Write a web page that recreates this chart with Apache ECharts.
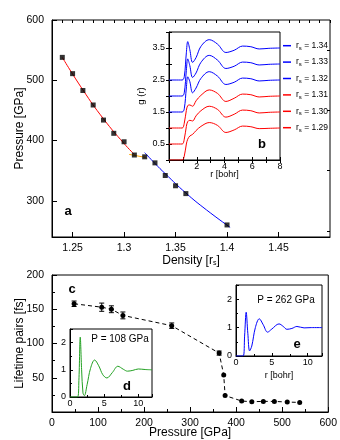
<!DOCTYPE html>
<html>
<head>
<meta charset="utf-8">
<script src="https://cdn.jsdelivr.net/npm/echarts@6/dist/echarts.min.js"></script>
<style>
html, body { margin: 0; padding: 0; background: #fff; }
#main { width: 340px; height: 440px; }
</style>
</head>
<body>
<div id="main"></div>
<script>
// panel a: pressure vs density
const rsA = [1.24, 1.25, 1.26, 1.27, 1.28, 1.29, 1.30, 1.31, 1.32, 1.33, 1.34, 1.35, 1.36, 1.40];
const pressA = [538, 511, 483, 459, 434, 412, 398, 376, 373, 363, 342, 325, 312, 260];
// fitted curves in panel a
const rsRed = [1.24, 1.26, 1.28, 1.30, 1.31];
const pressRed = [538, 484, 436, 395, 377];
const rsOrange = [1.305, 1.321];
const pressOrange = [377, 372];
const rsBlue = [1.32, 1.33, 1.34, 1.36, 1.38, 1.403];
const pressBlue = [380, 362, 345, 313, 285, 256];
const xTicksA = [1.25, 1.3, 1.35, 1.4, 1.45];
const yTicksA = [300, 400, 500, 600];
const yMinorA = [250, 350, 450, 550];

// panel b: g(r) for several rs, shifted by 0.5 each
const rsB = ['1.29', '1.30', '1.31', '1.32', '1.33', '1.34'];
const offsetB = [0, 0.5, 1.0, 1.5, 2.0, 2.5];
const rB   = [0, 0.95, 1.1, 1.25, 1.35, 1.5, 1.7, 1.95, 2.3, 2.9, 3.5, 4.1, 4.7, 5.3, 5.9, 6.5, 7.2, 8];
const g129 = [0, 0, 0.12, 0.5, 0.65, 0.75, 0.8, 0.92, 1.05, 1.17, 1.08, 0.86, 0.94, 1.06, 1.04, 0.98, 0.99, 1.0];
const g130 = [0, 0, 0.15, 0.55, 0.7, 0.74, 0.72, 0.88, 1.04, 1.18, 1.08, 0.84, 0.93, 1.06, 1.04, 0.97, 0.99, 1.0];
const g131 = [0, 0, 0.15, 0.55, 0.7, 0.72, 0.68, 0.85, 1.02, 1.19, 1.08, 0.83, 0.93, 1.06, 1.04, 0.97, 0.99, 1.0];
const g132 = [0, 0, 0.1, 0.75, 1.1, 0.95, 0.6, 0.75, 1.05, 1.26, 1.12, 0.86, 0.93, 1.06, 1.04, 0.97, 0.99, 1.0];
const g133 = [0, 0, 0.1, 0.8, 1.16, 0.95, 0.58, 0.72, 1.05, 1.27, 1.12, 0.86, 0.93, 1.06, 1.04, 0.97, 0.99, 1.0];
const g134 = [0, 0, 0.1, 0.85, 1.2, 0.95, 0.55, 0.7, 1.05, 1.26, 1.12, 0.86, 0.93, 1.06, 1.04, 0.97, 0.99, 1.0];
const gB = [g129, g130, g131, g132, g133, g134];
const colorB = ['#f00', '#f00', '#f00', '#00f', '#00f', '#00f'];

// panel c: lifetime of pairs vs pressure
const pressC = [48, 108, 129, 154, 260, 363, 373, 376, 412, 434, 459, 483, 511, 538];
const lifeC = [158, 153, 150, 141, 126, 86, 54, 24, 16, 15, 15.5, 15.5, 14.5, 14];
const errC = [4, 6, 5, 5, 4, 3, 0, 0, 0, 0, 0, 0, 0, 0];

// panel d: g(r) at 108 GPa
const rD = [0, 1.1, 1.3, 1.5, 1.7, 1.9, 2.1, 2.5, 3.0, 3.6, 4.2, 4.8, 5.4, 6.2, 7.0, 7.8, 8.4, 9.2, 10, 11, 12];
const gD = [0, 0, 0.6, 2.2, 1.0, 0.15, 0.05, 0.45, 1.05, 1.36, 1.15, 0.82, 0.7, 0.9, 1.13, 1.02, 0.95, 0.98, 1.03, 1.01, 1.0];

// panel e: g(r) at 262 GPa
const rE = [0, 1.0, 1.2, 1.42, 1.65, 1.9, 2.2, 2.7, 3.25, 3.8, 4.4, 5.0, 6.0, 6.6, 7.1, 7.8, 8.5, 9.5, 10.5, 12];
const gE = [0, 0, 0.7, 1.54, 0.8, 0.18, 0.35, 1.0, 1.31, 1.1, 0.84, 0.95, 1.13, 1.04, 0.94, 0.97, 1.04, 0.99, 1.0, 1.0];

const zip = (xs, ys) => xs.map((x, i) => [x, ys[i]]);

const chart = echarts.init(document.getElementById('main'));

const black = '#000';
const subS = { fontSize: 7, padding: [5, 0, 0, 0] };

function tick(len) {
    return { show: true, inside: true, length: len, lineStyle: { color: black } };
}
const noLine = { show: false };

const option = {
    animation: false,
    textStyle: { fontFamily: 'Liberation Sans, Arial, sans-serif', color: black },
    grid: [
        { left: 52, top: 20, width: 278, height: 217, show: true, borderColor: black, borderWidth: 1 },
        { left: 169, top: 32, width: 111, height: 128, show: true, backgroundColor: '#fff', borderColor: black },
        { left: 52, top: 275, width: 278, height: 137, show: true, borderColor: black },
        { left: 70, top: 329, width: 82, height: 68, show: true, backgroundColor: '#fff', borderColor: black },
        { left: 236, top: 285, width: 86, height: 71, show: true, backgroundColor: '#fff', borderColor: black }
    ],
    xAxis: [
        {
            gridIndex: 0, type: 'value', min: 1.23, max: 1.5,
            axisLine: { lineStyle: { color: black } },
            axisTick: Object.assign(tick(5), { customValues: xTicksA }),
            axisLabel: { customValues: xTicksA, fontSize: 10.5, color: black, margin: 6,
                formatter: v => String(+v.toFixed(2)) },
            splitLine: noLine,
            name: 'Density [r{s|s}]', nameLocation: 'middle', nameGap: 18, nameMoveOverlap: false,
            nameTextStyle: { fontSize: 12, color: black, rich: { s: subS } }
        },
        {
            gridIndex: 0, type: 'value', min: 1.23, max: 1.5, interval: 0.01,
            axisLine: noLine, axisTick: tick(3), axisLabel: noLine, splitLine: noLine
        },
        {
            gridIndex: 1, type: 'value', min: 0, max: 8, interval: 1,
            axisLine: { lineStyle: { color: black } }, axisTick: tick(3),
            axisLabel: { fontSize: 9, color: black, margin: 2,
                formatter: v => (v > 0 && v % 2 === 0 ? String(v) : '') },
            splitLine: noLine,
            name: 'r [bohr]', nameLocation: 'middle', nameGap: 10, nameMoveOverlap: false,
            nameTextStyle: { fontSize: 9, color: black }
        },
        {
            gridIndex: 1, type: 'value', min: 0, max: 8, interval: 1, position: 'top',
            axisLine: noLine, axisTick: tick(3), axisLabel: noLine, splitLine: noLine
        },
        {
            gridIndex: 2, type: 'value', min: 0, max: 600, interval: 100,
            axisLine: { lineStyle: { color: black } }, axisTick: tick(5),
            minorTick: { show: true, splitNumber: 2, length: 3, lineStyle: { color: black } },
            axisLabel: { fontSize: 10.5, color: black, margin: 6 },
            splitLine: noLine, minorSplitLine: noLine,
            name: 'Pressure [GPa]', nameLocation: 'middle', nameGap: 15, nameMoveOverlap: false,
            nameTextStyle: { fontSize: 12, color: black }
        },
        {
            gridIndex: 3, type: 'value', min: 0, max: 12, interval: 5,
            axisLine: { lineStyle: { color: black } }, axisTick: tick(3),
            minorTick: { show: true, splitNumber: 2, length: 2, lineStyle: { color: black } },
            axisLabel: { fontSize: 9, color: black, margin: 2, showMaxLabel: false },
            splitLine: noLine, minorSplitLine: noLine
        },
        {
            gridIndex: 4, type: 'value', min: 0, max: 12, interval: 5,
            axisLine: { lineStyle: { color: black } }, axisTick: tick(3),
            minorTick: { show: true, splitNumber: 2, length: 2, lineStyle: { color: black } },
            axisLabel: { fontSize: 9, color: black, margin: 2, showMaxLabel: false },
            splitLine: noLine, minorSplitLine: noLine,
            name: 'r [bohr]', nameLocation: 'middle', nameGap: 15, nameMoveOverlap: false,
            nameTextStyle: { fontSize: 9, color: black }
        }
    ],
    yAxis: [
        {
            gridIndex: 0, type: 'value', min: 240, max: 600,
            axisLine: { show: true, lineStyle: { color: black } },
            axisTick: Object.assign(tick(5), { customValues: yTicksA }),
            axisLabel: { customValues: yTicksA, fontSize: 10.5, color: black, margin: 8 },
            splitLine: noLine,
            name: 'Pressure [GPa]', nameLocation: 'middle', nameGap: 26, nameMoveOverlap: false,
            nameTextStyle: { fontSize: 12, color: black }
        },
        {
            gridIndex: 0, type: 'value', min: 240, max: 600,
            axisLine: noLine, axisTick: Object.assign(tick(3), { customValues: yMinorA }),
            axisLabel: { show: false, customValues: yMinorA }, splitLine: noLine
        },
        {
            gridIndex: 1, type: 'value', min: 0, max: 4, interval: 0.5,
            axisLine: { show: true, lineStyle: { color: black } }, axisTick: tick(3),
            axisLabel: { fontSize: 9, color: black, margin: 4,
                formatter: v => (Math.round(v * 2) % 2 === 1 ? v.toFixed(1) : '') },
            splitLine: noLine,
            name: 'g (r)', nameLocation: 'middle', nameGap: 23, nameMoveOverlap: false,
            nameTextStyle: { fontSize: 9.5, color: black }
        },
        {
            gridIndex: 1, type: 'value', min: 0, max: 4, interval: 0.5, position: 'right',
            axisLine: noLine, axisTick: tick(3), axisLabel: noLine, splitLine: noLine
        },
        {
            gridIndex: 2, type: 'value', min: 0, max: 200, interval: 50,
            axisLine: { show: true, lineStyle: { color: black } }, axisTick: tick(5),
            minorTick: { show: true, splitNumber: 2, length: 3, lineStyle: { color: black } },
            axisLabel: { fontSize: 10.5, color: black, margin: 8, showMinLabel: false },
            splitLine: noLine, minorSplitLine: noLine,
            name: 'Lifetime pairs [fs]', nameLocation: 'middle', nameGap: 26, nameMoveOverlap: false,
            nameTextStyle: { fontSize: 12, color: black }
        },
        {
            gridIndex: 3, type: 'value', min: 0, max: 2.5, interval: 1,
            axisLine: { show: true, lineStyle: { color: black } }, axisTick: tick(3),
            minorTick: { show: true, splitNumber: 2, length: 2, lineStyle: { color: black } },
            axisLabel: { fontSize: 9, color: black, margin: 4, showMaxLabel: false },
            splitLine: noLine, minorSplitLine: noLine
        },
        {
            gridIndex: 4, type: 'value', min: 0, max: 2.5, interval: 1,
            axisLine: { show: true, lineStyle: { color: black } }, axisTick: tick(3),
            minorTick: { show: true, splitNumber: 2, length: 2, lineStyle: { color: black } },
            axisLabel: { fontSize: 9, color: black, margin: 4, showMaxLabel: false },
            splitLine: noLine, minorSplitLine: noLine
        }
    ],
    legend: {
        left: 283, top: 37.5, padding: 0, orient: 'vertical', icon: 'rect',
        itemWidth: 8, itemHeight: 1.5, itemGap: 0,
        data: rsB.slice().reverse(),
        formatter: name => '{r|r}{s|s}{t| = ' + name + '}',
        textStyle: {
            color: black, fontSize: 8.5, lineHeight: 16.4,
            rich: {
                r: { fontSize: 8.5, lineHeight: 16.4 },
                s: { fontSize: 6, padding: [5, 0, 0, 0] },
                t: { fontSize: 8.5, lineHeight: 16.4 }
            }
        }
    },
    graphic: [
        ['a', 68, 211], ['b', 262, 144], ['c', 72, 289], ['d', 127, 386], ['e', 297, 344]
    ].map(([t, x, y]) => ({
        type: 'text', x: x, y: y, z: 100,
        style: { text: t, font: 'bold 13px Liberation Sans, Arial, sans-serif',
            textAlign: 'center', textVerticalAlign: 'middle', fill: black }
    })).concat([
        ['P = 108 GPa', 120, 339], ['P = 262 GPa', 286, 300]
    ].map(([t, x, y]) => ({
        type: 'text', x: x, y: y, z: 100,
        style: { text: t, font: '10px Liberation Sans, Arial, sans-serif',
            textAlign: 'center', textVerticalAlign: 'middle', fill: black }
    }))),
    series: [
        { type: 'line', xAxisIndex: 0, yAxisIndex: 0, data: zip(rsRed, pressRed), smooth: true,
          showSymbol: false, lineStyle: { color: '#f00', width: 1 } },
        { type: 'line', xAxisIndex: 0, yAxisIndex: 0, data: zip(rsOrange, pressOrange),
          showSymbol: false, lineStyle: { color: '#ffa500', width: 1 } },
        { type: 'line', xAxisIndex: 0, yAxisIndex: 0, data: zip(rsBlue, pressBlue), smooth: true,
          showSymbol: false, lineStyle: { color: '#00f', width: 1 } },
        { type: 'scatter', xAxisIndex: 0, yAxisIndex: 0, data: zip(rsA, pressA), symbol: 'rect',
          symbolSize: 5, itemStyle: { color: black }, z: 5 }
    ].concat(rsB.map((name, i) => ({
        type: 'line', name: name, xAxisIndex: 2, yAxisIndex: 2,
        data: rB.map((r, j) => [r, gB[i][j] + offsetB[i]]),
        smooth: 0.35, showSymbol: false, color: colorB[i],
        lineStyle: { color: colorB[i], width: 1 }
    }))).concat([
        { type: 'line', xAxisIndex: 4, yAxisIndex: 4, data: zip(pressC, lifeC),
          symbol: 'circle', symbolSize: 5, itemStyle: { color: black },
          lineStyle: { color: black, width: 1, type: [4, 3] } },
        {
            type: 'custom', xAxisIndex: 4, yAxisIndex: 4,
            data: pressC.map((p, i) => [p, lifeC[i] - errC[i], lifeC[i] + errC[i]]).filter((d, i) => errC[i] > 0),
            encode: { x: 0, y: [1, 2] },
            renderItem: (params, api) => {
                const lo = api.coord([api.value(0), api.value(1)]);
                const hi = api.coord([api.value(0), api.value(2)]);
                const w = 2.5;
                const st = { stroke: black, lineWidth: 1 };
                return { type: 'group', children: [
                    { type: 'line', shape: { x1: lo[0], y1: lo[1], x2: hi[0], y2: hi[1] }, style: st },
                    { type: 'line', shape: { x1: lo[0] - w, y1: lo[1], x2: lo[0] + w, y2: lo[1] }, style: st },
                    { type: 'line', shape: { x1: hi[0] - w, y1: hi[1], x2: hi[0] + w, y2: hi[1] }, style: st }
                ] };
            }
        },
        { type: 'line', xAxisIndex: 5, yAxisIndex: 5, data: zip(rD, gD), smooth: 0.35,
          showSymbol: false, lineStyle: { color: '#22a022', width: 1 } },
        { type: 'line', xAxisIndex: 6, yAxisIndex: 6, data: zip(rE, gE), smooth: 0.35,
          showSymbol: false, lineStyle: { color: '#00f', width: 1 } }
    ])
};

chart.setOption(option);
</script>
</body>
</html>
